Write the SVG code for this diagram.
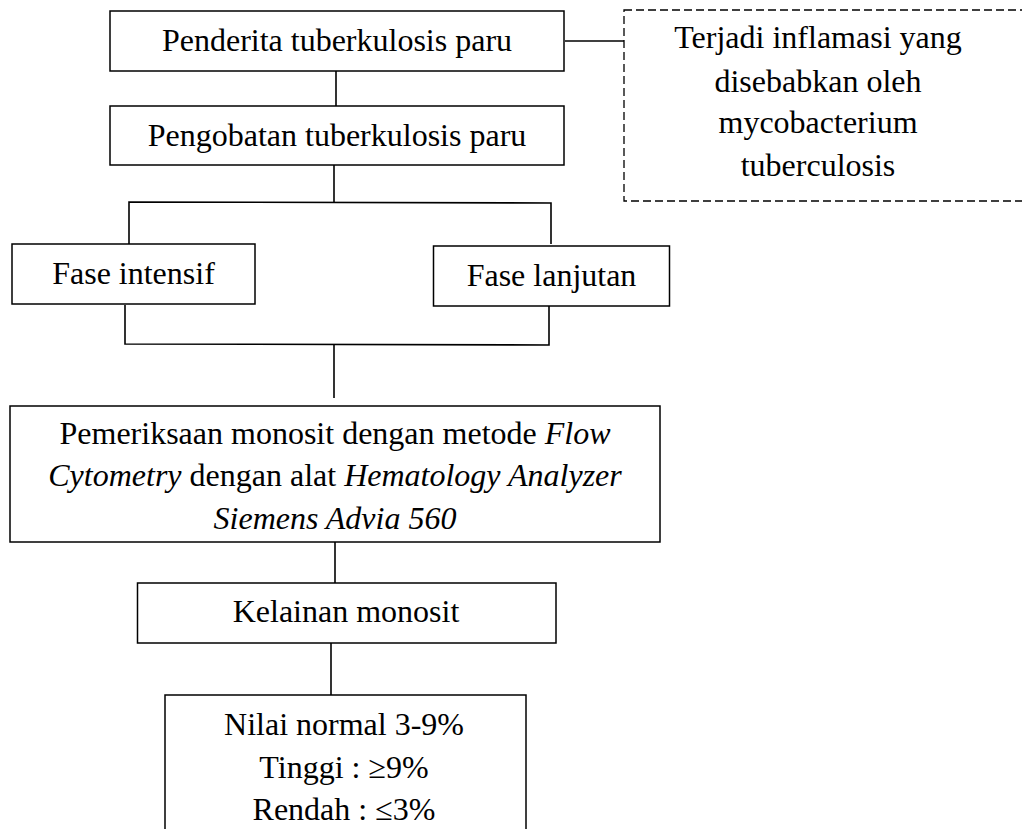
<svg xmlns="http://www.w3.org/2000/svg" width="1022" height="829" viewBox="0 0 1022 829">
<style>
.box{fill:#fff;stroke:#000;stroke-width:1.5}
.dash{fill:#fff;stroke:#000;stroke-width:1.3;stroke-dasharray:8 4}
.ln{fill:none;stroke:#000;stroke-width:1.6}
text{font-family:"Liberation Serif","Times New Roman",serif;font-size:32px;fill:#000;text-anchor:middle}
.i{font-style:italic}
</style>
<rect width="1022" height="829" fill="#fff"/>
<g id="connectors">
<line class="ln" x1="565" y1="41" x2="624" y2="41"/>
<line class="ln" x1="336" y1="71" x2="336" y2="106"/>
<line class="ln" x1="334" y1="160" x2="334" y2="202"/>
<polyline class="ln" points="129,244 129,202 551,203 551,244"/>
<polyline class="ln" points="125,305 125,344 549,345 549,306"/>
<line class="ln" x1="334" y1="345" x2="334" y2="398"/>
<line class="ln" x1="335" y1="542" x2="335" y2="583"/>
<line class="ln" x1="331" y1="643" x2="331" y2="695"/>
</g>
<g id="n1"><rect class="box" x="110" y="11" width="454" height="60"/><text x="337" y="51">Penderita tuberkulosis paru</text></g>
<g id="n2"><rect class="dash" x="624" y="10" width="410" height="191"/>
<text x="818" y="48">Terjadi inflamasi yang</text>
<text x="818" y="92">disebabkan oleh</text>
<text x="818" y="133">mycobacterium</text>
<text x="818" y="176">tuberculosis</text></g>
<g id="n3"><rect class="box" x="110" y="106" width="454" height="59"/><text x="337" y="146">Pengobatan tuberkulosis paru</text></g>
<g id="n4"><rect class="box" x="12" y="244" width="243" height="60"/><text x="133.5" y="284">Fase intensif</text></g>
<g id="n5"><rect class="box" x="433.5" y="246" width="236" height="60"/><text x="551.5" y="286">Fase lanjutan</text></g>
<g id="n6"><rect class="box" x="10" y="406" width="650" height="136"/>
<text x="335" y="444">Pemeriksaan monosit dengan metode <tspan class="i">Flow</tspan></text>
<text x="335" y="486"><tspan class="i">Cytometry</tspan> dengan alat <tspan class="i">Hematology Analyzer</tspan></text>
<text x="335" y="529" class="i">Siemens Advia 560</text></g>
<g id="n7"><rect class="box" x="137.5" y="583" width="418.5" height="60"/><text x="346" y="622">Kelainan monosit</text></g>
<g id="n8"><rect class="box" x="165" y="695" width="361" height="150"/>
<text x="344" y="735">Nilai normal 3-9%</text>
<text x="344" y="778">Tinggi : ≥9%</text>
<text x="344" y="820">Rendah : ≤3%</text></g>
</svg>
